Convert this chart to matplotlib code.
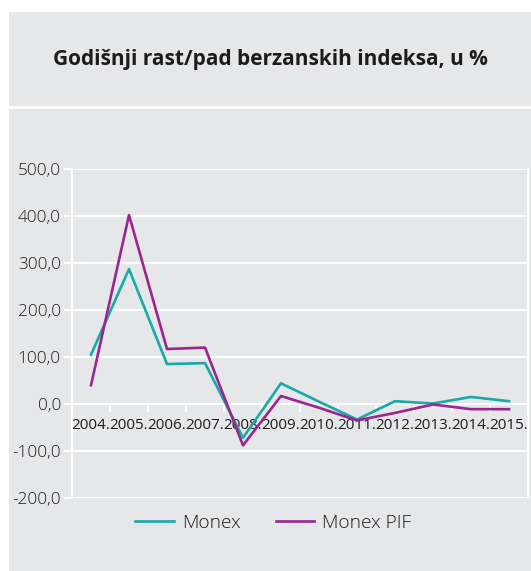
import numpy as np
import matplotlib
matplotlib.use("Agg")
import matplotlib.pyplot as plt
from matplotlib.patches import Rectangle

years = ["2004.", "2005.", "2006.", "2007.", "2008.", "2009.", "2010.",
         "2011.", "2012.", "2013.", "2014.", "2015."]
monex = [105, 287, 85, 87, -72, 44, 5, -33, 6, 1, 15, 6]
monex_pif = [40, 402, 117, 120, -88, 17, -8, -35, -19, -1, -11, -11]
yticks = [-200, -100, 0, 100, 200, 300, 400, 500]
series_names = ["Monex", "Monex PIF"]

W, H = 531, 571
plt.rcParams['font.family'] = ['Open Sans', 'DejaVu Sans']
fig = plt.figure(figsize=(W / 100, H / 100), dpi=100)
fig.patch.set_facecolor("white")

bg = "#e6e7e8"
txt = "#1f1b1c"
teal = "#16aaa9"
purple = "#9c2590"

def px_rect(x0, y0, x1, y1):
    return Rectangle((x0 / W, 1 - y1 / H), (x1 - x0) / W, (y1 - y0) / H,
                     transform=fig.transFigure, facecolor=bg, edgecolor="none", zorder=-10)

fig.patches.append(px_rect(9, 12, W, 106))
fig.patches.append(px_rect(9, 109, W, H))

fig.text((9 + W) / 2 / W, 1 - 59 / H, "Godišnji rast/pad berzanskih indeksa, u %",
         ha="center", va="center", fontsize=15, fontweight="bold", color=txt)

ax = fig.add_axes([72 / W, 1 - 498 / H, (528 - 72) / W, (498 - 169) / H])
ax.set_zorder(5)
ax.set_facecolor(bg)
x = np.arange(len(years))
ax.plot(x, monex, color=teal, lw=1.9, label=series_names[0], zorder=3)
ax.plot(x, monex_pif, color=purple, lw=1.9, label=series_names[1], zorder=3)

ax.set_xlim(-0.5, len(years) - 0.5)
ax.set_ylim(-200, 500)
ax.set_yticks(yticks)
ax.set_yticklabels([f"{v:.1f}".replace(".", ",") for v in yticks])
ax.yaxis.grid(True, color="white", lw=1.4, zorder=1)
ax.set_axisbelow(True)

ax.set_xticks(np.arange(-0.5, len(years), 1))
ax.set_xticklabels([])
ax.set_xticks(x, minor=True)
ax.set_xticklabels(years, minor=True)
ax.tick_params(axis="x", which="major", length=6, width=1.4, color="white", direction="out")
ax.tick_params(axis="x", which="minor", length=0, pad=10, labelsize=11, labelcolor=txt)
ax.tick_params(axis="y", length=6, width=1.4, color="white", pad=2, labelsize=12.3, labelcolor=txt)
for lbl in ax.get_xticklabels(minor=True) + ax.get_yticklabels():
    lbl.set_fontweight(300)

for s in ["left", "right", "bottom"]:
    ax.spines[s].set_color("white")
    ax.spines[s].set_linewidth(1.4)
ax.spines["top"].set_visible(False)
ax.spines["bottom"].set_position(("data", 0))

leg = fig.legend(loc="center", bbox_to_anchor=(0.515, 1 - 523 / H), ncol=2, frameon=False,
                 prop={"size": 13.8, "weight": 300},
                 handlelength=2.0, handletextpad=0.45, columnspacing=1.8)
for t in leg.get_texts():
    t.set_color(txt)

fig.savefig("out.png", dpi=100, facecolor="white")
